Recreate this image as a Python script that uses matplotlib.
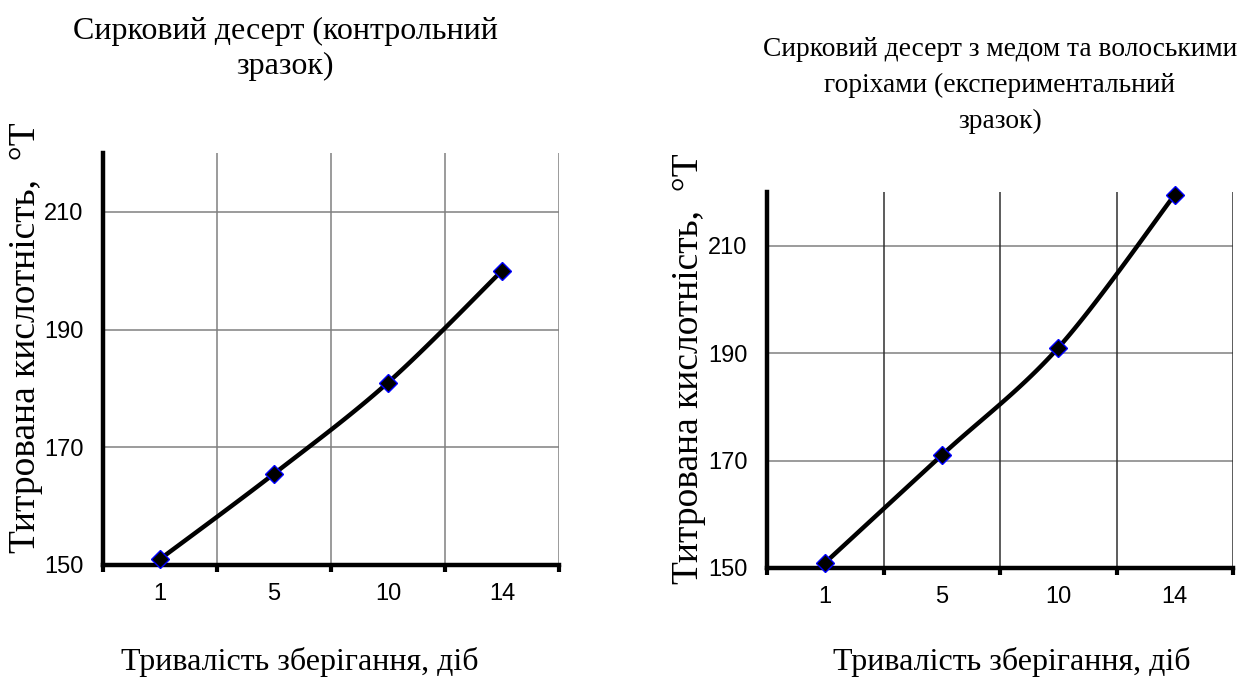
import numpy as np
import matplotlib
matplotlib.use("Agg")
import matplotlib.pyplot as plt

# ---- data ----
days = ["1", "5", "10", "14"]
control_acidity = [151, 165.5, 181, 200]
experimental_acidity = [151, 171, 191, 219.5]
y_ticks = [150, 170, 190, 210]

title_left = "Сирковий десерт (контрольний\nзразок)"
title_right = "Сирковий десерт з медом та волоськими\nгоріхами (експериментальний\nзразок)"
xlabel = "Тривалість зберігання, діб"
ylabel = "Титрована кислотність,  °Т"

W, H = 1240, 680
fig = plt.figure(figsize=(W / 100, H / 100), dpi=100)

SERIF = ["Liberation Serif", "DejaVu Serif"]
SANS = ["Liberation Sans", "DejaVu Sans"]


def smooth(xs, ys, n=40):
    """Excel-like smoothed line (Catmull-Rom as cubic Bezier)."""
    xs = np.asarray(xs, float)
    ys = np.asarray(ys, float)
    P = np.column_stack([xs, ys])
    out = []
    for i in range(len(P) - 1):
        p0 = P[i - 1] if i > 0 else P[i]
        p1 = P[i]
        p2 = P[i + 1]
        p3 = P[i + 2] if i + 2 < len(P) else P[i + 1]
        c1 = p1 + (p2 - p0) / 6
        c2 = p2 - (p3 - p1) / 6
        t = np.linspace(0, 1, n)[:, None]
        seg = ((1 - t) ** 3) * p1 + 3 * ((1 - t) ** 2) * t * c1 + 3 * (1 - t) * t ** 2 * c2 + t ** 3 * p2
        out.append(seg if i == 0 else seg[1:])
    s = np.vstack(out)
    return s[:, 0], s[:, 1]


def px_axes(x0, x1, ytop, ybot):
    return fig.add_axes([x0 / W, (H - ybot) / H, (x1 - x0) / W, (ybot - ytop) / H])


def draw(ax, values, vgrid_color):
    n = len(days)
    xs = np.arange(n)
    ax.set_xlim(-0.5, n - 0.5)
    ax.set_ylim(150, 220)
    # grid
    for yv in y_ticks[1:]:
        ax.axhline(yv, color="#808080", lw=1.1, zorder=1)
    for b in np.arange(n) + 0.5:
        ax.axvline(b, color=vgrid_color, lw=1.1, zorder=1)
    sx, sy = smooth(xs, values)
    ax.plot(sx, sy, color="black", lw=3.2, zorder=3, solid_capstyle="round")
    ax.plot(xs, values, linestyle="none", marker="D", markersize=9,
            markerfacecolor="black", markeredgecolor="#0000ff", markeredgewidth=1.0,
            zorder=4, clip_on=False)
    for s in ["top", "right"]:
        ax.spines[s].set_visible(False)
    for s in ["left", "bottom"]:
        ax.spines[s].set_linewidth(3.2)
        ax.spines[s].set_color("black")
    ax.set_xticks(np.arange(n + 1) - 0.5)
    ax.set_xticklabels([])
    ax.set_xticks(xs, minor=True)
    ax.set_xticklabels(days, minor=True, fontsize=17, family=SANS)
    ax.tick_params(axis="x", which="major", length=5, width=3, direction="out")
    ax.tick_params(axis="x", which="minor", length=0, pad=13)
    ax.set_yticks(y_ticks)
    ax.set_yticklabels([str(v) for v in y_ticks], fontsize=17, family=SANS)
    ax.tick_params(axis="y", length=0, pad=14)
    ax.set_facecolor("white")


axL = px_axes(103, 559, 153, 565)
draw(axL, control_acidity, "#808080")
axR = px_axes(767, 1233, 192, 568)
draw(axR, experimental_acidity, "#303030")

# titles
fig.text(285 / W, 1 - 17 / H, title_left, ha="center", va="top", fontsize=23,
         family=SERIF, linespacing=1.25, multialignment="center")
fig.text(1000 / W, 1 - 37 / H, title_right, ha="center", va="top", fontsize=19.8,
         family=SERIF, linespacing=1.56, multialignment="center")

# x labels
fig.text(300 / W, 1 - 662 / H, xlabel, ha="center", va="center", fontsize=23, family=SERIF)
fig.text(1012 / W, 1 - 662 / H, xlabel, ha="center", va="center", fontsize=23, family=SERIF)

# y labels
fig.text(26 / W, 1 - 338 / H, ylabel, ha="center", va="center", rotation=90, fontsize=27, family=SERIF)
fig.text(689 / W, 1 - 369 / H, ylabel, ha="center", va="center", rotation=90, fontsize=27, family=SERIF)

fig.savefig("out.png", dpi=100, facecolor="white")
